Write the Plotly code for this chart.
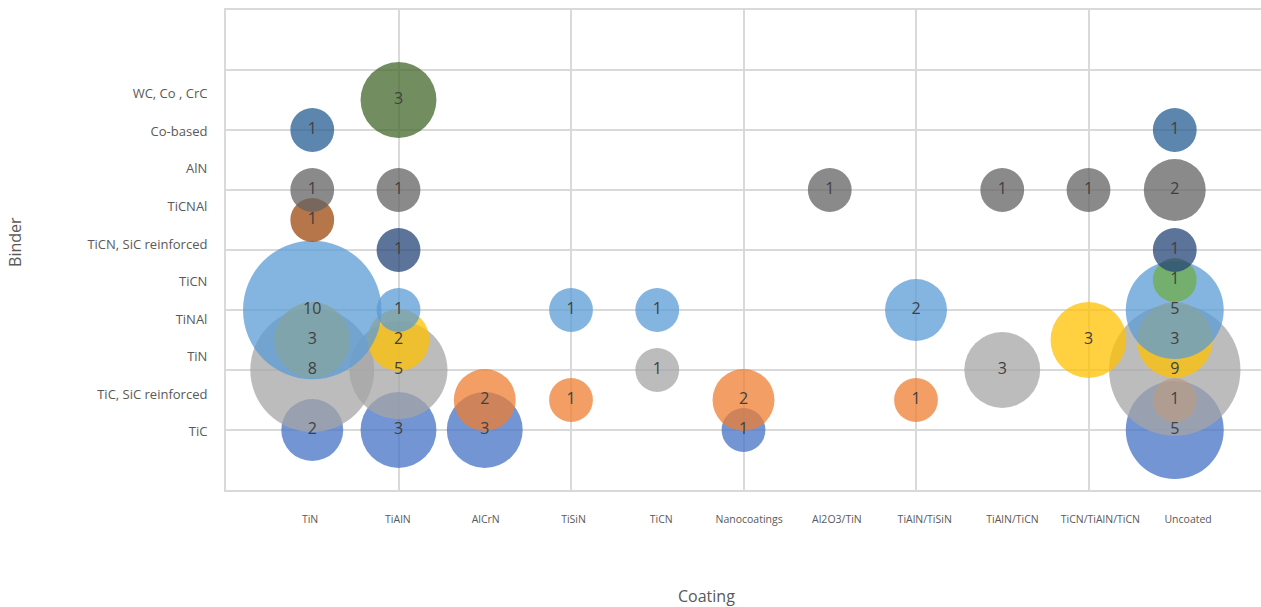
import plotly.graph_objects as go

# Coating categories along the x axis (positions 1..11)
coatings = ["TiN", "TiAlN", "AlCrN", "TiSiN", "TiCN", "Nanocoatings", "Al2O3/TiN",
            "TiAlN/TiSiN", "TiAlN/TiCN", "TiCN/TiAlN/TiCN", "Uncoated"]

# Binder labels listed up the y axis
binder_labels = ["TiC", "TiC, SiC reinforced", "TiN", "TiNAl", "TiCN",
                 "TiCN, SiC reinforced", "TiCNAl", "AlN", "Co-based", "WC, Co , CrC"]

# Number of studies per coating for each bubble row (None = no bubble)
blue = [2, 3, 3, None, None, 1, None, None, None, None, 5]
orange = [None, None, 2, 1, None, 2, None, 1, None, None, 1]
grey = [8, 5, None, None, 1, None, None, None, 3, None, 9]
gold = [3, 2, None, None, None, None, None, None, None, 3, 3]
light_blue = [10, 1, None, 1, 1, None, None, 2, None, None, 5]
green = [None, None, None, None, None, None, None, None, None, None, 1]
navy = [None, 1, None, None, None, None, None, None, None, None, 1]
brown = [1, None, None, None, None, None, None, None, None, None, None]
dark_grey = [1, 1, None, None, None, None, 1, None, 1, 1, 2]
steel_blue = [1, None, None, None, None, None, None, None, None, None, 1]
olive = [None, 3, None, None, None, None, None, None, None, None, None]

# Row heights on the y scale, one per series above
row_levels = [1.0, 1.5, 2.0, 2.5, 3.0, 3.5, 4.0, 4.5, 5.0, 6.0, 6.5]

series = [blue, orange, grey, gold, light_blue, green, navy, brown,
          dark_grey, steel_blue, olive]
colors = ["#4472C4", "#ED7D31", "#A5A5A5", "#FFC000", "#5B9BD5", "#70AD47",
          "#264478", "#9E480E", "#636363", "#255E91", "#43682B"]

SIZEREF = 2.0 / 43.8 ** 2
x_pos = [i + 1 for i in range(len(coatings))]

fig = go.Figure()

# Bubbles first, then all value labels on top
for counts, level, color in zip(series, row_levels, colors):
    xs = [x for x, c in zip(x_pos, counts) if c]
    vs = [c for c in counts if c]
    fig.add_trace(go.Scatter(
        x=xs, y=[level] * len(xs), mode="markers",
        marker=dict(size=vs, sizemode="area", sizeref=SIZEREF, color=color,
                    opacity=0.75, line=dict(width=0)),
        hoverinfo="skip", showlegend=False,
    ))

for counts, level in zip(series, row_levels):
    xs = [x for x, c in zip(x_pos, counts) if c]
    vs = [c for c in counts if c]
    fig.add_trace(go.Scatter(
        x=xs, y=[level] * len(xs), mode="text", text=[str(v) for v in vs],
        textposition="middle center",
        textfont=dict(family="Open Sans", size=16, color="#404040"),
        hoverinfo="skip", showlegend=False,
    ))

grid_color = "#d9d9d9"
x_tick_pos = [0.975 + 1.018 * i for i in range(len(coatings))]
y_tick_pos = [0.97 + 0.626 * i for i in range(len(binder_labels))]

fig.update_layout(
    width=1261, height=607, autosize=False,
    margin=dict(l=226, r=0, t=10, b=117),
    paper_bgcolor="white", plot_bgcolor="white",
    xaxis=dict(
        range=[0, 12], tickmode="array", tickvals=x_tick_pos, ticktext=coatings,
        showgrid=False, zeroline=False,
        showline=True, mirror=True, linecolor=grid_color, linewidth=2,
        ticks="outside", ticklen=18, tickcolor="rgba(0,0,0,0)",
        tickfont=dict(family="Open Sans", size=10.5, color="#595959"),
        minor=dict(tickmode="linear", tick0=0, dtick=2, showgrid=True,
                   gridcolor=grid_color, gridwidth=2, ticks=""),
    ),
    yaxis=dict(
        range=[0, 8], tickmode="array", tickvals=y_tick_pos, ticktext=binder_labels,
        showgrid=False, zeroline=False,
        showline=True, linecolor=grid_color, linewidth=2,
        ticks="outside", ticklen=14, tickcolor="rgba(0,0,0,0)",
        tickfont=dict(family="Open Sans", size=13, color="#595959"),
        minor=dict(tickmode="linear", tick0=0, dtick=1, showgrid=True,
                   gridcolor=grid_color, gridwidth=2, ticks=""),
    ),
    annotations=[
        dict(text="Binder", xref="paper", yref="paper", x=-0.2039, y=0.5167,
             xanchor="center", yanchor="middle", textangle=-90, showarrow=False,
             font=dict(family="Open Sans", size=16, color="#595959")),
        dict(text="Coating", xref="paper", yref="paper", x=0.4647, y=-0.2208,
             xanchor="center", yanchor="middle", showarrow=False,
             font=dict(family="Open Sans", size=16, color="#595959")),
    ],
)

fig.write_html("out.html")
